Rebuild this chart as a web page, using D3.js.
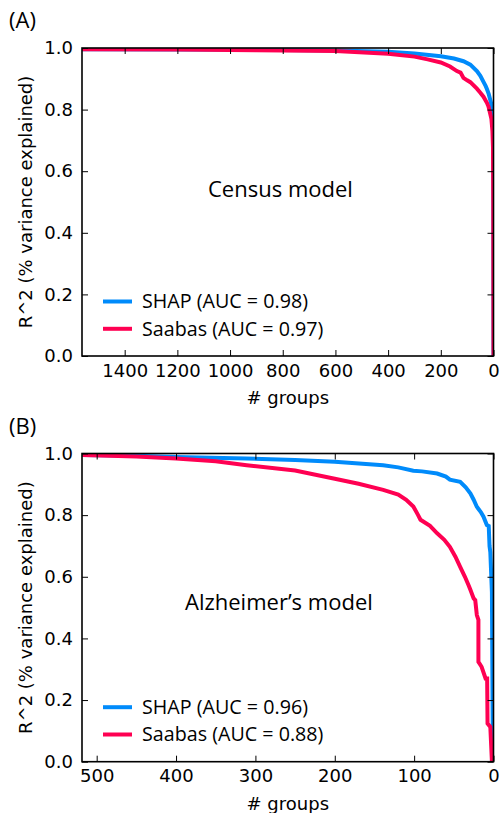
<!DOCTYPE html>
<html>
  <head>
    <meta charset="utf-8" />
    <title>SHAP vs Saabas</title>
    <script src="https://d3js.org/d3.v7.min.js"></script>
    <style>
      body { margin: 0; background: white; }
      .tick text { font-family: "DejaVu Sans", sans-serif; font-size: 18px; fill: black; }
      .tick line { stroke: black; stroke-width: 1; }
    </style>
  </head>
  <body>
    <svg id="chart" width="500" height="813"></svg>

    <script>
      // Data: [# groups, R^2]
      var censusShap = [
        [1562, 0.996], [1200, 0.995], [900, 0.994], [600, 0.992], [400, 0.988],
        [300, 0.982], [200, 0.973], [150, 0.966], [114, 0.957], [88, 0.946],
        [63, 0.925], [50, 0.91], [38, 0.89], [30, 0.877], [25, 0.867],
        [18, 0.85], [12, 0.83], [6, 0.81], [3, 0.795], [1, 0.78], [0, 0.0]
      ];
      var censusSaabas = [
        [1562, 0.996], [1200, 0.995], [900, 0.993], [600, 0.99], [400, 0.981],
        [300, 0.972], [250, 0.963], [200, 0.953], [165, 0.94], [139, 0.925],
        [125, 0.92], [114, 0.903], [100, 0.895], [88, 0.889], [63, 0.868],
        [50, 0.855], [38, 0.842], [25, 0.822], [19, 0.81], [12, 0.785],
        [8, 0.77], [4, 0.73], [2, 0.68], [1, 0.5], [0, 0.0]
      ];
      var alzShap = [
        [518, 0.995], [450, 0.993], [400, 0.989], [311, 0.984], [250, 0.979],
        [200, 0.973], [139, 0.962], [120, 0.955], [101, 0.944], [90, 0.942],
        [71, 0.935], [60, 0.925], [55, 0.915], [42, 0.908], [35, 0.89],
        [29, 0.87], [25, 0.85], [21, 0.827], [16, 0.81], [12.6, 0.795],
        [8.4, 0.768], [6, 0.765], [5, 0.70], [4, 0.68], [2, 0.55],
        [1, 0.12], [0, 0.0]
      ];
      var alzSaabas = [
        [518, 0.995], [450, 0.99], [400, 0.984], [350, 0.975], [311, 0.962],
        [250, 0.945], [200, 0.918], [170, 0.902], [139, 0.882], [120, 0.867],
        [110, 0.85], [101, 0.828], [95, 0.80], [92, 0.785], [80, 0.765],
        [71, 0.741], [62, 0.72], [55, 0.697], [48, 0.665], [42, 0.632],
        [36, 0.60], [31, 0.57], [29, 0.557], [25, 0.53], [23, 0.524],
        [21, 0.476], [19, 0.46], [19, 0.324], [15, 0.308], [10, 0.27],
        [8, 0.27], [7.5, 0.124], [4, 0.113], [2, 0.0], [0, 0.0]
      ];

      var censusXTicks = [1400, 1200, 1000, 800, 600, 400, 200, 0];
      var alzXTicks = [500, 400, 300, 200, 100, 0];
      var yTicks = [0.0, 0.2, 0.4, 0.6, 0.8, 1.0];

      var censusLegend = ["SHAP (AUC = 0.98)", "Saabas (AUC = 0.97)"];
      var alzLegend = ["SHAP (AUC = 0.96)", "Saabas (AUC = 0.88)"];

      var blue = "#008bfb";
      var red = "#ff0052";

      var svg = d3.select("#chart");

      function drawPanel(p) {
        var x = d3.scaleLinear().domain([p.xMax, 0]).range([82, 493.5]);
        var y = d3.scaleLinear().domain([0, 1]).range([p.bottom, p.top]);
        var g = svg.append("g");

        // panel letter
        g.append("text")
          .attr("x", 9).attr("y", p.top - 20)
          .style("font-family", "Open Sans").style("font-size", "22px")
          .text(p.letter);

        // clip for the curves
        g.append("clipPath").attr("id", "clip" + p.id)
          .append("rect")
          .attr("x", 82).attr("y", p.top)
          .attr("width", 493.5 - 82).attr("height", p.bottom - p.top);

        var line = d3.line()
          .x(function(d) { return x(d[0]); })
          .y(function(d) { return y(d[1]); });

        var series = [p.shap, p.saabas];
        var colors = [blue, red];
        series.forEach(function(s, i) {
          g.append("path")
            .datum(s)
            .attr("clip-path", "url(#clip" + p.id + ")")
            .attr("fill", "none")
            .attr("stroke", colors[i])
            .attr("stroke-width", 4)
            .attr("stroke-linejoin", "miter")
            .attr("d", line);
        });

        // axes, ticks pointing inward on all sides
        g.append("g")
          .attr("transform", "translate(0," + p.bottom + ")")
          .call(d3.axisBottom(x).tickValues(p.xTicks).tickSizeInner(-6).tickSizeOuter(0)
            .tickPadding(8).tickFormat(d3.format("d")));
        g.append("g")
          .attr("transform", "translate(0," + p.top + ")")
          .call(d3.axisTop(x).tickValues(p.xTicks).tickSizeInner(-6).tickSizeOuter(0)
            .tickFormat(""));
        g.append("g")
          .attr("transform", "translate(82,0)")
          .call(d3.axisLeft(y).tickValues(yTicks).tickSizeInner(-6).tickSizeOuter(0)
            .tickPadding(9).tickFormat(d3.format(".1f")));
        g.append("g")
          .attr("transform", "translate(493.5,0)")
          .call(d3.axisRight(y).tickValues(yTicks).tickSizeInner(-6).tickSizeOuter(0)
            .tickFormat(""));
        g.selectAll(".domain").remove();

        // frame
        g.append("rect")
          .attr("x", 82).attr("y", p.top)
          .attr("width", 493.5 - 82).attr("height", p.bottom - p.top)
          .attr("fill", "none").attr("stroke", "black").attr("stroke-width", 1.6);

        // axis labels
        g.append("text")
          .attr("x", 287.8).attr("y", p.bottom + 48)
          .attr("text-anchor", "middle")
          .style("font-family", "DejaVu Sans").style("font-size", "18px")
          .text("# groups");
        g.append("text")
          .attr("transform", "translate(32," + (p.top + p.bottom) / 2 + ") rotate(-90)")
          .attr("text-anchor", "middle")
          .style("font-family", "DejaVu Sans").style("font-size", "18px")
          .text("R^2 (% variance explained)");

        // model name
        g.append("text")
          .attr("x", p.titleX).attr("y", p.titleY)
          .style("font-family", "Open Sans").style("font-size", "22px")
          .text(p.title);

        // legend
        p.legend.forEach(function(label, i) {
          var ly = p.bottom - 54.5 + i * 27.3;
          g.append("line")
            .attr("x1", 103).attr("x2", 132)
            .attr("y1", ly).attr("y2", ly)
            .attr("stroke", colors[i]).attr("stroke-width", 4);
          g.append("text")
            .attr("x", 142).attr("y", ly + 6.8)
            .style("font-family", "Open Sans").style("font-size", "19.7px")
            .text(label);
        });
      }

      drawPanel({
        id: "A", letter: "(A)", title: "Census model",
        top: 48, bottom: 356, xMax: 1562,
        xTicks: censusXTicks, shap: censusShap, saabas: censusSaabas,
        legend: censusLegend, titleX: 208, titleY: 197
      });
      drawPanel({
        id: "B", letter: "(B)", title: "Alzheimer\u2019s model",
        top: 453.5, bottom: 761.7, xMax: 518.5,
        xTicks: alzXTicks, shap: alzShap, saabas: alzSaabas,
        legend: alzLegend, titleX: 185, titleY: 610
      });
    </script>
  </body>
</html>
